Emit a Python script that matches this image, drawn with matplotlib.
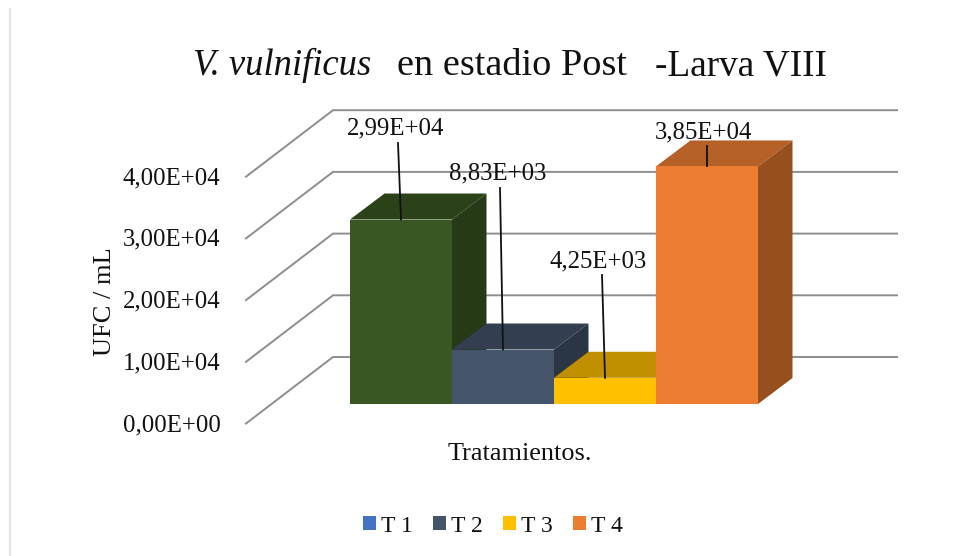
import matplotlib
matplotlib.use("Agg")
import matplotlib.pyplot as plt
from matplotlib.patches import Polygon, Patch

categories = ["T 1", "T 2", "T 3", "T 4"]
bar_values = [2.99e4, 8.83e3, 4.25e3, 3.85e4]
bar_labels = ["2,99E+04", "8,83E+03", "4,25E+03", "3,85E+04"]
tick_values = [0, 1e4, 2e4, 3e4, 4e4]
tick_labels = ["0,00E+00", "1,00E+04", "2,00E+04", "3,00E+04", "4,00E+04"]

front_colors = ["#385723", "#44546A", "#FFC000", "#ED7D31"]
top_colors = ["#2B4219", "#333F50", "#C09000", "#B46026"]
side_colors = ["#263A16", "#2A3644", "#A67C00", "#984F1E"]
legend_colors = ["#4472C4", "#44546A", "#FFC000", "#ED7D31"]

W, H = 955, 556
X0, PX_CAT = 350.0, 102.0
Y0, PX_VAL = 404.0, 61.7 / 1e4

plt.rcParams["font.family"] = ["Liberation Serif", "DejaVu Serif"]
fig = plt.figure(figsize=(W / 100, H / 100), dpi=100, facecolor="white")
ax = fig.add_axes([0, 0, 1, 1])
ax.set_xlim((0 - X0) / PX_CAT, (W - X0) / PX_CAT)
ax.set_ylim((Y0 - H) / PX_VAL, Y0 / PX_VAL)
ax.axis("off")


def dx(px):
    return px / PX_CAT


def dy(px):
    return px / PX_VAL


def xp(px):
    return (px - X0) / PX_CAT


def yp(px):
    return (Y0 - px) / PX_VAL


# page border line at left
ax.plot([xp(9.5), xp(9.5)], [yp(9), yp(556)], color="#E4E4E4", lw=1.6, zorder=0)

# walls: back gridlines and the oblique floor-side lines
WALL_L_FRONT, WALL_L_BACK, WALL_R = xp(246), xp(333), xp(897)
FRONT_BASE = yp(423.5)
DEPTH_Y = dy(66.5)
for v, lab in zip(tick_values, tick_labels):
    yf = FRONT_BASE + v
    yb = yf + DEPTH_Y
    ax.plot([WALL_L_FRONT, WALL_L_BACK, WALL_R], [yf, yb, yb],
            color="#8E8E8E", lw=1.4, zorder=1, solid_joinstyle="miter")
    ax.text(xp(220.5), yf - dy(1.5), lab, ha="right", va="center", fontsize=17.8, color="#111111")

# oblique bars
BAR_DX, BAR_DY = dx(34.5), dy(26)
for i, v in enumerate(bar_values):
    z = 2 + i
    ax.add_patch(Polygon([(i, v), (i + 1, v), (i + 1 + BAR_DX, v + BAR_DY), (i + BAR_DX, v + BAR_DY)],
                         closed=True, facecolor=top_colors[i], edgecolor="none", zorder=z))
    ax.add_patch(Polygon([(i + 1, 0), (i + 1 + BAR_DX, BAR_DY), (i + 1 + BAR_DX, v + BAR_DY), (i + 1, v)],
                         closed=True, facecolor=side_colors[i], edgecolor="none", zorder=z))
    ax.bar(i, v, width=1, align="edge", color=front_colors[i], zorder=z + 0.5, linewidth=0)

# data labels with leader lines (label centre and leader start, in pixels)
label_centers_px = [(395.5, 127), (497.5, 172), (598.5, 260), (703.5, 131)]
leader_starts_px = [(398, 143), (500, 188), (602, 275), (707, 146)]
for i, v in enumerate(bar_values):
    sx, sy = leader_starts_px[i]
    ax.plot([xp(sx), i + 0.5], [yp(sy), v], color="#111111", lw=1.3, zorder=10)
    cx, cy = label_centers_px[i]
    ax.text(xp(cx), yp(cy + 1.5), bar_labels[i], ha="center", va="center",
            fontsize=17.8, color="#111111", zorder=11)

# title pieces
ax.text(xp(193), yp(75), "V. vulnificus", style="italic", fontsize=26.4, va="baseline", color="#111111")
ax.text(xp(397), yp(75), "en estadio Post", fontsize=27.5, va="baseline", color="#111111")
ax.text(xp(655), yp(75), "-Larva VIII", fontsize=26.8, va="baseline", color="#111111")

# axis titles
ax.text(xp(105), yp(302), "UFC / mL", rotation=90, ha="center", va="center", fontsize=19, color="#111111")
ax.text(xp(519.5), yp(454), "Tratamientos.", ha="center", va="center", fontsize=18.9, color="#111111")

handles = [Patch(facecolor=c, edgecolor="none", label=t) for c, t in zip(legend_colors, categories)]
ax.legend(handles=handles, ncol=4, frameon=False, fontsize=17,
          loc="center", bbox_to_anchor=(493 / W, 1 - 526 / H),
          handlelength=0.55, handleheight=0.55, handletextpad=0.2, columnspacing=0.87,
          labelcolor="#111111")

fig.savefig("out.png", dpi=100, facecolor="white")
